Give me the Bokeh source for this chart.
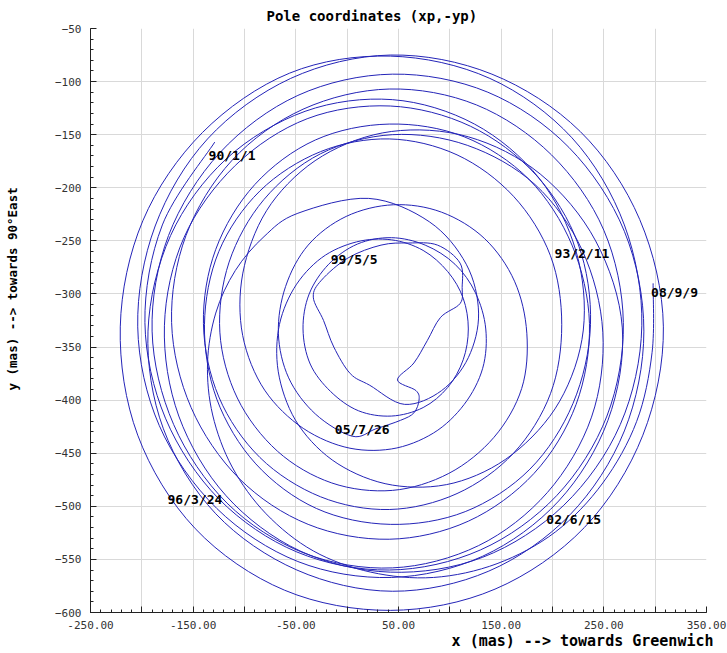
from bokeh.plotting import figure
from bokeh.models import Range1d, SingleIntervalTicker, Title
from bokeh.embed import file_html
from bokeh.resources import INLINE
from bokeh.core.properties import value

# Pole coordinates, mas (xp, -yp)
xp = [-129,-180,-197,-177,-125,-49,41,130,204,253,269,250,199,126,41,-43,
      -112,-157,-171,-152,-105,-38,41,118,182,223,236,219,177,114,41,-31,
      -90,-128,-140,-125,-85,-26,41,107,162,198,209,198,162,107,41,-26,
      -85,-125,-139,-127,-89,-30,42,115,178,220,237,225,184,120,42,-39,
      -109,-159,-178,-164,-118,-46,42,132,211,266,287,270,219,139,42,-56,
      -141,-199,-221,-204,-148,-61,42,144,231,288,308,285,227,141,42,-55,
      -136,-187,-204,-183,-127,-48,43,132,206,254,268,242,188,118,43,-24,
      -74,-100,-103,-84,-48,-3,43,84,114,132,135,125,105,76,43,10,
      -18,-37,-43,-36,-16,11,43,74,98,113,118,113,98,74,43,9,
      -25,-52,-67,-66,-47,-9,44,104,161,207,230,223,187,124,44,-41,
      -118,-172,-194,-179,-128,-49,44,138,217,270,289,270,216,137,44,-48,
      -124,-174,-190,-169,-117,-42,44,128,195,238,249,229,183,117,44,-26,
      -81,-115,-124,-107,-68,-15,44,99,143,170,175,163,134,92,45,-1,
      -38,-60,-67,-57,-31,5,
      28,52,65,70,67,49,65,78,91,110,112,110,88,60,33,1,-25,-33,-23,-13,3,22,
      56,92,118,128,116,80,21,-48,-81,-109,-128,-136,-131,-112,-79,-33,
      23,84,146,203,249,282,297,298]

yp = [-157,-235,-327,-417,-493,-543,-560,-541,-490,-415,-327,-240,-169,-122,-107,-126,
      -174,-245,-327,-407,-474,-517,-531,-514,-469,-404,-328,-254,-192,-152,-140,-155,
      -197,-258,-328,-397,-454,-491,-503,-488,-450,-394,-329,-264,-208,-169,-154,-166,
      -203,-260,-329,-399,-460,-502,-517,-505,-465,-403,-329,-253,-188,-142,-123,-135,
      -179,-247,-330,-415,-490,-542,-562,-548,-499,-423,-330,-235,-153,-97,-76,-92,
      -148,-231,-331,-433,-521,-579,-598,-578,-520,-433,-331,-230,-147,-93,-75,-97,
      -154,-236,-331,-424,-502,-552,-567,-547,-495,-419,-332,-250,-187,-152,-147,-170,
      -215,-273,-332,-385,-423,-444,-446,-431,-404,-370,-333,-299,-272,-254,-247,-253,
      -272,-300,-333,-366,-392,-410,-415,-407,-388,-362,-333,-304,-279,-259,-249,-251,
      -266,-295,-334,-379,-424,-460,-480,-478,-451,-401,-334,-260,-191,-140,-117,-128,
      -173,-245,-335,-427,-507,-560,-580,-561,-508,-429,-335,-241,-162,-110,-93,-113,
      -167,-245,-335,-423,-497,-544,-558,-537,-487,-416,-336,-259,-197,-160,-150,-168,
      -211,-270,-336,-398,-448,-478,-485,-469,-435,-389,-337,-288,-248,-223,-216,-227,
      -254,-293,-337,-379,-413,-434,
      -427,-419,-412,-400,-391,-381,-365,-344,-322,-309,-294,-271,-254,-252,-254,-266,
      -287,-303,-325,-350,-375,-386,
      -404,-391,-360,-318,-272,-232,-210,-224,-246,-278,-318,-365,-414,-463,-507,-542,
      -562,-567,-554,-524,-478,-420,-355,-290]

date_labels = ["90/1/1", "93/2/11", "96/3/24", "99/5/5", "02/6/15", "05/7/26", "08/9/9"]
date_x = [-135, 202, -175, -16, 194, -12, 296]
date_y = [-170, -262, -494, -268, -512, -428, -299]

x_tick_labels = {-250: "-250.00", -200: "", -150: "-150.00", -100: "", -50: "-50.00",
                 0: "", 50: "50.00", 100: "", 150: "150.00", 200: "", 250: "250.00",
                 300: "", 350: "350.00"}

p = figure(width=727, height=653, x_range=Range1d(-250, 350), y_range=Range1d(-600, -50),
           output_backend="svg", toolbar_location=None, title=None,
           min_border_left=90, min_border_right=21, min_border_top=28, min_border_bottom=41)
p.outline_line_color = None
p.background_fill_color = "white"
p.border_fill_color = "white"

p.xaxis.ticker = SingleIntervalTicker(interval=50, num_minor_ticks=5)
p.yaxis.ticker = SingleIntervalTicker(interval=50, num_minor_ticks=5)
p.xaxis.major_label_overrides = x_tick_labels
for ax in (p.xaxis[0], p.yaxis[0]):
    ax.major_tick_in = 6
    ax.major_tick_out = 0
    ax.minor_tick_in = 3
    ax.minor_tick_out = 0
    ax.axis_line_color = "#222222"
    ax.major_tick_line_color = "#222222"
    ax.minor_tick_line_color = "#222222"
    ax.major_label_text_font = "DejaVu Sans Mono"
    ax.major_label_text_font_size = "11px"
    ax.major_label_text_color = "#333333"
p.xaxis.major_label_standoff = 8
p.yaxis.major_label_standoff = 9
# blank axis label only reserves room so the rotated title sits near the page edge
p.yaxis.axis_label = " "
p.yaxis.axis_label_standoff = 15
p.yaxis.axis_label_text_font_size = "13px"

p.grid.grid_line_color = "#d9d9d9"
p.grid.grid_line_width = 1

# smooth path through the read points (Catmull-Rom as cubic Bezier segments)
n = len(xp)
bx0, by0, bx1, by1, bcx0, bcy0, bcx1, bcy1 = [], [], [], [], [], [], [], []
for k in range(n - 1):
    a = max(k - 1, 0)
    d = min(k + 2, n - 1)
    bx0.append(xp[k]); by0.append(yp[k])
    bx1.append(xp[k + 1]); by1.append(yp[k + 1])
    bcx0.append(xp[k] + (xp[k + 1] - xp[a]) / 6.0)
    bcy0.append(yp[k] + (yp[k + 1] - yp[a]) / 6.0)
    bcx1.append(xp[k + 1] - (xp[d] - xp[k]) / 6.0)
    bcy1.append(yp[k + 1] - (yp[d] - yp[k]) / 6.0)
p.bezier(x0=bx0, y0=by0, x1=bx1, y1=by1, cx0=bcx0, cy0=bcy0, cx1=bcx1, cy1=bcy1,
         line_color="#2424b8", line_width=1)

p.text(x=date_x, y=date_y, text=date_labels, text_font=value("DejaVu Sans Mono"),
       text_font_style="bold", text_font_size=value("13px"), text_color="black",
       text_align="left", text_baseline="middle")


def make_title(text, size, align, offset, valign):
    t = Title(text=text, align=align, offset=offset, vertical_align=valign,
              text_font="DejaVu Sans Mono", text_font_style="bold",
              text_font_size=size, text_color="black")
    try:
        t.standoff = 0
    except Exception:
        pass
    return t


t_top = make_title("Pole coordinates (xp,-yp)", "14px", "left", 176, "bottom")
try:
    t_top.standoff = 9
except Exception:
    pass
p.add_layout(t_top, "above")
p.add_layout(make_title("x (mas) --> towards Greenwich", "15px", "right", -7, "top"), "below")
p.add_layout(make_title("y (mas) --> towards 90°East", "12.5px", "left", 222, "bottom"), "left")

open("out.html", "w").write(file_html(p, INLINE))
